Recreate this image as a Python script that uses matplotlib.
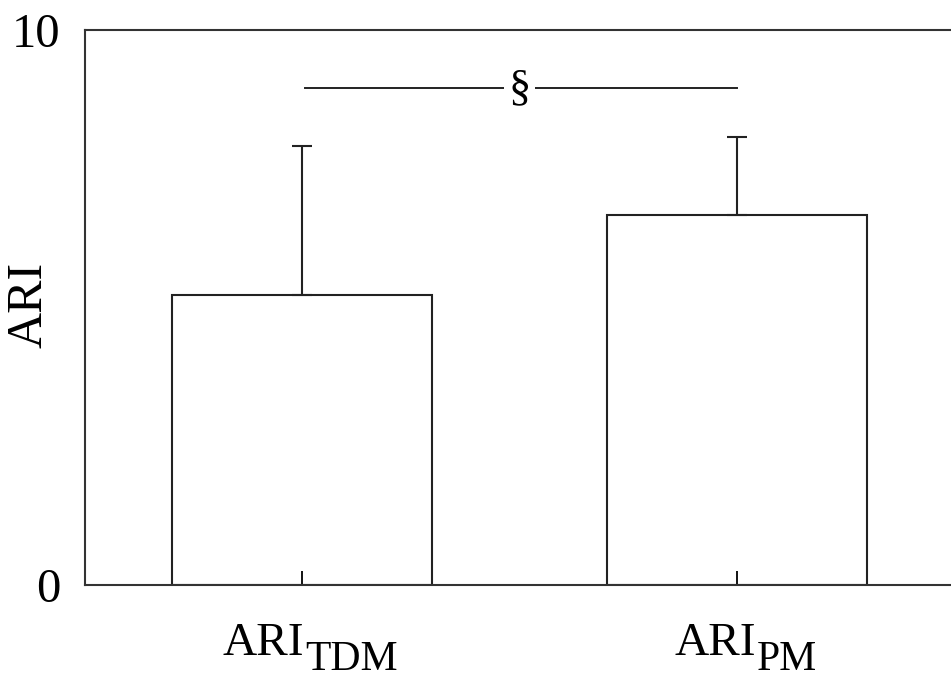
import matplotlib
matplotlib.use('agg')
import matplotlib.pyplot as plt

# data
main_labels = ['ARI', 'ARI']
sub_labels = ['TDM', 'PM']
means = [5.23, 6.67]
errors = [2.68, 1.40]
sig_label = '§'
sig_y = 8.95

plt.rcParams['font.family'] = ['Liberation Serif', 'DejaVu Serif']

W, H = 951, 684
dpi = 100
fig = plt.figure(figsize=(W / dpi, H / dpi), dpi=dpi)
ax = fig.add_axes([85 / W, 99 / H, 866 / W, 555 / H])

x = [0, 1]
ax.bar(x, means, width=0.597, color='white', edgecolor='#222222', linewidth=1.5)
ax.errorbar(x, means, yerr=[[0, 0], errors], fmt='none', ecolor='#222222',
            elinewidth=1.5, capsize=7.5, capthick=1.5)

# significance bracket
ax.plot([0.007, 1.0], [sig_y, sig_y], color='#222222', linewidth=1.4)
ax.text(0.5, sig_y, sig_label, ha='center', va='center', fontsize=32,
        bbox=dict(facecolor='white', edgecolor='none', pad=3))

ax.set_xlim(-0.499, 1.492)
ax.set_ylim(0, 10)
ax.set_yticks([0, 10])
ax.set_yticklabels(['0', '10'], fontsize=35)
ax.tick_params(axis='y', length=0, pad=18)
ax.set_xticks(x)
ax.set_xticklabels([])
ax.tick_params(axis='x', direction='in', length=10, width=1.3)
ax.set_ylabel('ARI', fontsize=36)
ax.yaxis.set_label_coords(-0.037, 0.505)

for side in ['left', 'bottom', 'top']:
    ax.spines[side].set_linewidth(1.5)
    ax.spines[side].set_color('#333333')
ax.spines['right'].set_visible(False)

# category labels with large subscripts, built from two texts
renderer = fig.canvas.get_renderer()
for xi, main, sub in zip(x, main_labels, sub_labels):
    cx = ax.transData.transform((xi, 0))[0] + 8
    t1 = fig.text(0, (H - 655) / H, main, fontsize=34, va='baseline')
    t2 = fig.text(0, (H - 670) / H, sub, fontsize=30, va='baseline')
    w1 = t1.get_window_extent(renderer).width
    w2 = t2.get_window_extent(renderer).width
    left = cx - (w1 + w2) / 2
    t1.set_x(left / W)
    t2.set_x((left + w1 + 1) / W)

fig.savefig('out.png', dpi=dpi)
